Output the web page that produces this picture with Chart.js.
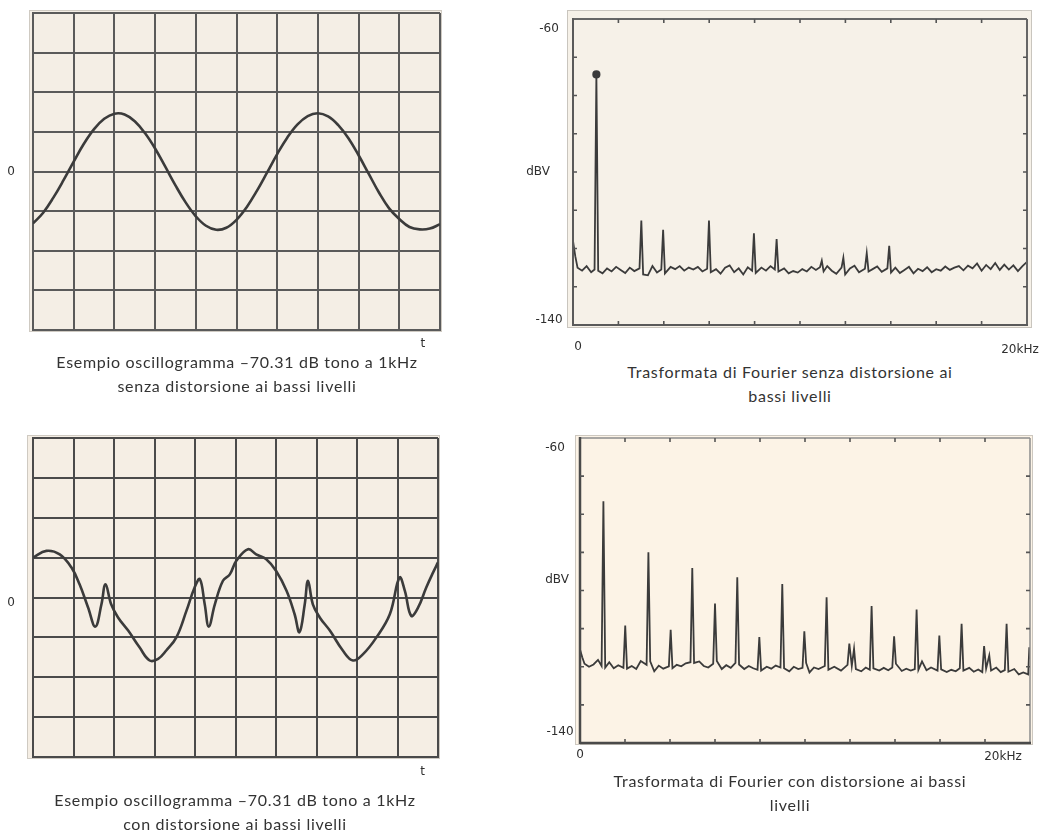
<!DOCTYPE html>
<html lang="it">
<head>
<meta charset="utf-8">
<title>Oscillogrammi e trasformate di Fourier</title>
<script src="https://cdn.jsdelivr.net/npm/chart.js@4.4.1/dist/chart.umd.min.js"></script>
<style>
  body { margin: 0; background: #fff; width: 1043px; height: 839px; position: relative; overflow: hidden; }
  canvas { position: absolute; }
  .caption { position: absolute; transform: translateX(-50%); white-space: nowrap; text-align: center;
             font-family: Lato, "Open Sans", sans-serif; font-size: 16px; letter-spacing: 0.7px;
             line-height: 24px; color: #333; }
</style>
</head>
<body>
<canvas id="scopeClean" width="500" height="352" style="left:0;top:0"></canvas>
<canvas id="fftClean" width="543" height="360" style="left:500px;top:0"></canvas>
<canvas id="scopeDist" width="500" height="370" style="left:0;top:420px"></canvas>
<canvas id="fftDist" width="543" height="350" style="left:500px;top:420px"></canvas>

<div class="caption" id="capScopeClean" style="left:237px;top:350px"></div>
<div class="caption" id="capFftClean" style="left:790px;top:360px"></div>
<div class="caption" id="capScopeDist" style="left:235px;top:788px"></div>
<div class="caption" id="capFftDist" style="left:790px;top:769px"></div>

<script>
// ------------------------------------------
// data
// oscillograms: x in screen divisions (0..10), y in divisions from the centre line
// ------------------------------------------
const scopeDiv = [0, 0.25, 0.5, 0.75, 1, 1.25, 1.5, 1.75, 2, 2.25, 2.5, 2.75, 3, 3.25, 3.5, 3.75,
  4, 4.25, 4.5, 4.75, 5, 5.25, 5.5, 5.75, 6, 6.25, 6.5, 6.75, 7, 7.25, 7.5, 7.75,
  8, 8.25, 8.5, 8.75, 9, 9.25, 9.5, 9.75, 10];
const scopeCleanY = [-1.31, -1.04, -0.66, -0.22, 0.25, 0.70, 1.07, 1.33, 1.46, 1.44, 1.27, 0.97,
  0.58, 0.12, -0.35, -0.78, -1.13, -1.37, -1.47, -1.42, -1.22, -0.90, -0.49, -0.03,
  0.44, 0.86, 1.19, 1.40, 1.47, 1.39, 1.17, 0.84, 0.41, -0.06, -0.53, -0.93,
  -1.20, -1.40, -1.46, -1.44, -1.33];

const scopeDistX = [0, 0.33, 0.66, 0.95, 1.15, 1.36, 1.54, 1.69, 1.79, 1.93, 2.1, 2.35, 2.63, 2.88,
  3.09, 3.29, 3.54, 3.79, 3.99, 4.12, 4.24, 4.34, 4.49, 4.69, 4.86, 5.02, 5.31, 5.51,
  5.76, 6.0, 6.26, 6.46, 6.58, 6.71, 6.79, 6.91, 7.08, 7.33, 7.65, 7.9, 8.15, 8.48,
  8.81, 9.05, 9.18, 9.34, 9.51, 9.71, 9.88, 10];
const scopeDistY = [1.0, 1.17, 1.08, 0.75, 0.33, -0.25, -0.73, -0.17, 0.33, -0.17, -0.5, -0.83, -1.25, -1.58,
  -1.54, -1.33, -1.0, -0.33, 0.25, 0.46, -0.17, -0.73, -0.17, 0.42, 0.58, 0.92, 1.21, 1.08,
  0.96, 0.67, 0.17, -0.42, -0.87, -0.17, 0.42, -0.17, -0.5, -0.83, -1.33, -1.58, -1.42, -1.0,
  -0.42, 0.5, 0.17, -0.46, -0.25, 0.25, 0.63, 0.88];

// spectra: frequency in kHz, level in dBV
const fftCleanKHz = [0, 0.1, 0.2, 0.4, 0.6, 0.8, 0.95, 1.03, 1.11, 1.3, 1.5, 1.7, 1.9, 2.1, 2.3, 2.5, 2.7,
  2.93, 3.01, 3.09, 3.3, 3.5, 3.7, 3.89, 3.97, 4.05, 4.3, 4.5, 4.7, 4.9, 5.1, 5.3, 5.5, 5.7,
  5.91, 5.99, 6.07, 6.3, 6.5, 6.7, 6.9, 7.1, 7.3, 7.5, 7.7, 7.89, 7.97, 8.05, 8.3, 8.5, 8.7,
  8.89, 8.97, 9.05, 9.3, 9.5, 9.7, 9.9, 10.1, 10.3, 10.5, 10.7, 10.88, 10.96, 11.04, 11.2,
  11.4, 11.6, 11.83, 11.91, 11.99, 12.2, 12.4, 12.6, 12.86, 12.94, 13.02, 13.2, 13.4, 13.6,
  13.85, 13.93, 14.01, 14.2, 14.4, 14.6, 14.8, 15.0, 15.2, 15.4, 15.6, 15.8, 16.0, 16.2,
  16.4, 16.6, 16.8, 17.0, 17.2, 17.4, 17.6, 17.8, 18.0, 18.2, 18.4, 18.6, 18.8, 19.0, 19.2,
  19.4, 19.6, 19.8, 20.0];
const fftCleanDbv = [-118, -122, -125, -125.8, -124.6, -126.2, -125.5, -74.5, -125.8, -126.5, -125.2, -126, -124.8, -125.6, -126.4, -125, -125.9,
  -125.2, -112.7, -126.8, -127, -124.6, -126.3, -125.5, -115.1, -126.5, -124.8, -125.4, -124.6, -125.8, -125, -125.5, -124.8, -126,
  -125.3, -112.7, -126.2, -125.4, -126.6, -125, -124.4, -126.2, -125.2, -126.8, -124.9, -125.8, -116, -126.4, -125, -125.8, -124.6,
  -125.5, -117.5, -126, -125.2, -126.5, -125.9, -126.3, -125.4, -126, -124.8, -125.6, -124.9, -123.2, -126, -124.6,
  -125.8, -126.6, -125, -122.4, -126.8, -125.2, -124.5, -126.2, -125.3, -121.2, -126, -125.4, -124.7, -126.1,
  -125.2, -119.3, -126.3, -125, -126.4, -125.6, -124.8, -126.5, -125.3, -125.9, -124.9, -126.2, -125.4, -125.8,
  -124.7, -125.6, -125, -124.6, -125.7, -124.5, -125.2, -123.9, -125.8, -124.3, -125.4, -123.8, -125.6, -124.2, -125.5,
  -124.4, -125.9, -124.6, -123.5];

const fftDistKHz = [0, 0.1, 0.2, 0.4, 0.6, 0.8, 0.96, 1.04, 1.12, 1.3, 1.5, 1.7, 1.93, 2.01, 2.09, 2.3, 2.5, 2.7,
  2.96, 3.04, 3.12, 3.3, 3.5, 3.7, 3.95, 4.03, 4.11, 4.3, 4.5, 4.7, 4.91, 4.99, 5.07, 5.3, 5.5, 5.7,
  5.92, 6.0, 6.08, 6.3, 6.5, 6.7, 6.91, 6.99, 7.07, 7.3, 7.5, 7.7, 7.89, 7.97, 8.05, 8.3, 8.5, 8.7,
  8.91, 8.99, 9.07, 9.3, 9.5, 9.7, 9.89, 9.97, 10.05, 10.2, 10.4, 10.6, 10.88, 10.96, 11.04, 11.3, 11.6,
  11.89, 11.97, 12.08, 12.18, 12.26, 12.5, 12.7, 12.88, 12.96, 13.04, 13.3, 13.5, 13.7, 13.88, 13.96, 14.04,
  14.3, 14.5, 14.7, 14.88, 14.96, 15.04, 15.2, 15.4, 15.6, 15.89, 15.97, 16.05, 16.3, 16.5, 16.7, 16.88,
  16.96, 17.04, 17.3, 17.5, 17.7, 17.88, 17.96, 18.05, 18.19, 18.27, 18.5, 18.7, 18.88, 18.96, 19.04,
  19.3, 19.5, 19.7, 19.92, 19.97, 20.0];
const fftDistDbv = [-115.5, -117.5, -119.2, -120, -119.4, -118.2, -119.8, -76.6, -120.2, -118.8, -120.4, -119.6, -120.3, -109.2, -120.5, -119.8, -120.6, -118.5,
  -119.5, -90, -118.6, -121.2, -119.7, -120.5, -119.9, -110.3, -120.4, -119.5, -119.9, -119.1, -118.8, -94.1, -119, -118.6, -119.8, -120.2,
  -119.2, -103.4, -118.5, -120.6, -119.6, -120.3, -119, -96.5, -119.4, -120.6, -119.8, -120.4, -120.8, -112.2, -121, -120, -120.5, -119.7,
  -120.2, -98.3, -120.4, -121.2, -120, -120.6, -120.3, -110.7, -119, -121.5, -120.2, -120.6, -119.8, -101.8, -120.8, -120, -121,
  -119.5, -113.9, -119.8, -115.3, -120.6, -121.2, -120.2, -120.8, -104.1, -120.4, -121, -120.3, -120.9, -120.2, -112, -119.2,
  -121.1, -120.5, -121, -120.6, -105, -120.8, -118.6, -120.9, -120.2, -121, -111.8, -120.7, -121.4, -120.8, -121.2, -120.4,
  -108.7, -121, -120.3, -121.3, -120.7, -121.4, -114.6, -120.5, -117, -121, -120.2, -121.4, -120.9, -108.7, -121.3,
  -120.6, -122, -121.5, -122, -114.9, -118];

// axis texts and captions
const scopeAxisText = ['0', 't'];
const fftAxisText = ['-60', 'dBV', '-140', '0', '20kHz'];
const captionScopeClean = ['Esempio oscillogramma \u201370.31 dB tono a 1kHz', 'senza distorsione ai bassi livelli'];
const captionFftClean = ['Trasformata di Fourier senza distorsione ai', 'bassi livelli'];
const captionScopeDist = ['Esempio oscillogramma \u201370.31 dB tono a 1kHz', 'con distorsione ai bassi livelli'];
const captionFftDist = ['Trasformata di Fourier con distorsione ai bassi', 'livelli'];

// ------------------------------------------
// the "paper" look: cream sheet, frame, inward ticks, loose axis texts
// ------------------------------------------
function paperSheet(cfg) {
  return {
    id: 'paperSheet',
    beforeDraw(chart) {
      const { ctx, chartArea: a } = chart;
      const m = cfg.margin;
      const x0 = a.left - m[0], y0 = a.top - m[1];
      const w = a.width + m[0] + m[2], h = a.height + m[1] + m[3];
      ctx.save();
      ctx.fillStyle = cfg.paper;
      ctx.fillRect(x0, y0, w, h);
      ctx.strokeStyle = cfg.edge;
      ctx.lineWidth = 1;
      ctx.strokeRect(x0 + 0.5, y0 + 0.5, w - 1, h - 1);
      ctx.restore();
    },
    afterDraw(chart) {
      const { ctx, chartArea: a, scales } = chart;
      const xs = scales.x, ys = scales.y;
      ctx.save();
      if (cfg.box) {
        const side = (col, wid, x1, y1, x2, y2) => {
          ctx.strokeStyle = col; ctx.lineWidth = wid;
          ctx.beginPath(); ctx.moveTo(x1, y1); ctx.lineTo(x2, y2); ctx.stroke();
        };
        const b = cfg.box;
        side(b.top[0], b.top[1], a.left, a.top, a.right, a.top);
        side(b.right[0], b.right[1], a.right, a.top, a.right, a.bottom);
        side(b.bottom[0], b.bottom[1], a.left, a.bottom, a.right + 1, a.bottom);
        side(b.left[0], b.left[1], a.left, a.top - 1, a.left, a.bottom + 1);
      }
      if (cfg.tickLen) {
        ctx.strokeStyle = cfg.tickColor;
        ctx.lineWidth = 1.6;
        ctx.beginPath();
        xs.ticks.forEach(t => {
          const px = xs.getPixelForValue(t.value);
          if (px <= a.left + 1 || px >= a.right - 1) return;
          ctx.moveTo(px, a.top); ctx.lineTo(px, a.top + cfg.tickLen);
          ctx.moveTo(px, a.bottom); ctx.lineTo(px, a.bottom - cfg.tickLen);
        });
        ys.ticks.forEach(t => {
          const py = ys.getPixelForValue(t.value);
          if (py <= a.top + 1 || py >= a.bottom - 1) return;
          ctx.moveTo(a.left, py); ctx.lineTo(a.left + cfg.tickLen, py);
          ctx.moveTo(a.right, py); ctx.lineTo(a.right - cfg.tickLen, py);
        });
        ctx.stroke();
      }
      ctx.font = '12px "DejaVu Sans", Verdana, sans-serif';
      ctx.fillStyle = '#2f2f2f';
      ctx.textAlign = 'center';
      ctx.textBaseline = 'middle';
      cfg.notes.forEach(n => {
        const px = n.x === undefined ? a.left : xs.getPixelForValue(n.x);
        const py = n.y === undefined ? a.bottom : ys.getPixelForValue(n.y);
        ctx.fillText(n.text, px + n.dx, py + n.dy);
      });
      ctx.restore();
    }
  };
}

const inkColor = '#3b3b3b';

function scopeChart(id, xs, ys, pad, sheet, gridColor) {
  return new Chart(document.getElementById(id), {
    type: 'line',
    data: {
      datasets: [{
        data: xs.map((v, i) => ({ x: v, y: ys[i] })),
        borderColor: inkColor,
        borderWidth: 2.6,
        tension: 0.4,
        pointRadius: 0
      }]
    },
    options: {
      responsive: false,
      animation: false,
      events: [],
      layout: { padding: pad },
      plugins: { legend: { display: false }, tooltip: { enabled: false } },
      scales: {
        x: {
          type: 'linear', min: 0, max: 10,
          ticks: { display: false, stepSize: 1 },
          grid: { color: gridColor, lineWidth: 2, drawTicks: false },
          border: { color: gridColor, width: 2 }
        },
        y: {
          min: -4, max: 4,
          ticks: { display: false, stepSize: 1 },
          grid: { color: gridColor, lineWidth: 2, drawTicks: false },
          border: { color: gridColor, width: 2 }
        }
      }
    },
    plugins: [paperSheet(sheet)]
  });
}

function fftChart(id, xs, ys, pad, sheet, markIndex) {
  return new Chart(document.getElementById(id), {
    type: 'line',
    data: {
      datasets: [{
        data: xs.map((v, i) => ({ x: v, y: ys[i] })),
        borderColor: inkColor,
        backgroundColor: inkColor,
        borderWidth: 1.8,
        tension: 0,
        pointRadius: c => (c.dataIndex === markIndex ? 3.2 : 0)
      }]
    },
    options: {
      responsive: false,
      animation: false,
      events: [],
      layout: { padding: pad },
      plugins: { legend: { display: false }, tooltip: { enabled: false } },
      scales: {
        x: {
          type: 'linear', min: 0, max: 20,
          ticks: { display: false, stepSize: 2 },
          grid: { display: false, drawTicks: false },
          border: { display: false }
        },
        y: {
          min: -140, max: -60,
          ticks: { display: false, stepSize: 10 },
          grid: { display: false, drawTicks: false },
          border: { display: false }
        }
      }
    },
    plugins: [paperSheet(sheet)]
  });
}

// ------------------------------------------
// the four panels
// ------------------------------------------
scopeChart('scopeClean', scopeDiv, scopeCleanY,
  { left: 33, top: 13, right: 60, bottom: 22 },
  { paper: '#f4eee5', edge: '#cfcac2', margin: [4, 3, 2, 2],
    notes: [{ text: scopeAxisText[0], y: 0, dx: -22, dy: 0 },
            { text: scopeAxisText[1], x: 9.58, dx: 0, dy: 14 }] },
  '#5a5a5a');

scopeChart('scopeDist', scopeDistX, scopeDistY,
  { left: 33, top: 18, right: 62, bottom: 33 },
  { paper: '#f5eee4', edge: '#cfcac2', margin: [6, 3, 2, 2],
    notes: [{ text: scopeAxisText[0], y: 0, dx: -22, dy: 5 },
            { text: scopeAxisText[1], x: 9.62, dx: 0, dy: 15 }] },
  '#4a4a4a');

fftChart('fftClean', fftCleanKHz, fftCleanDbv,
  { left: 73, top: 19, right: 16, bottom: 35 },
  { paper: '#f6f1e8', edge: '#c9c5be', margin: [6, 9, 5, 3],
    box: { top: ['#666', 2], right: ['#666', 2], bottom: ['#5a5a5a', 2], left: ['#5a5a5a', 2] },
    tickLen: 4, tickColor: '#555',
    notes: [{ text: fftAxisText[0], y: -60, dx: -24, dy: 10 },
            { text: fftAxisText[1], y: -100, dx: -35, dy: 0 },
            { text: fftAxisText[2], y: -140, dx: -24, dy: -5 },
            { text: fftAxisText[3], x: 0, dx: 5, dy: 22 },
            { text: fftAxisText[4], x: 20, dx: -7, dy: 25 }] },
  7);

fftChart('fftDist', fftDistKHz, fftDistDbv,
  { left: 80, top: 18, right: 13, bottom: 27 },
  { paper: '#fcf3e6', edge: '#cdc8c0', margin: [5, 3, 3, 2],
    box: { top: ['#8c8c8c', 1.5], right: ['#8c8c8c', 1.5], bottom: ['#4a4a4a', 2.5], left: ['#4a4a4a', 2.5] },
    tickLen: 4, tickColor: '#555',
    notes: [{ text: fftAxisText[0], y: -60, dx: -25, dy: 10 },
            { text: fftAxisText[1], y: -100, dx: -23, dy: -11 },
            { text: fftAxisText[2], y: -140, dx: -20, dy: -11 },
            { text: fftAxisText[3], x: 0, dx: 0, dy: 12 },
            { text: fftAxisText[4], x: 20, dx: -27, dy: 14 }] },
  -1);

// captions as real text
[['capScopeClean', captionScopeClean], ['capFftClean', captionFftClean],
 ['capScopeDist', captionScopeDist], ['capFftDist', captionFftDist]].forEach(([id, lines]) => {
  document.getElementById(id).innerHTML = lines.join('<br>');
});
</script>
</body>
</html>
